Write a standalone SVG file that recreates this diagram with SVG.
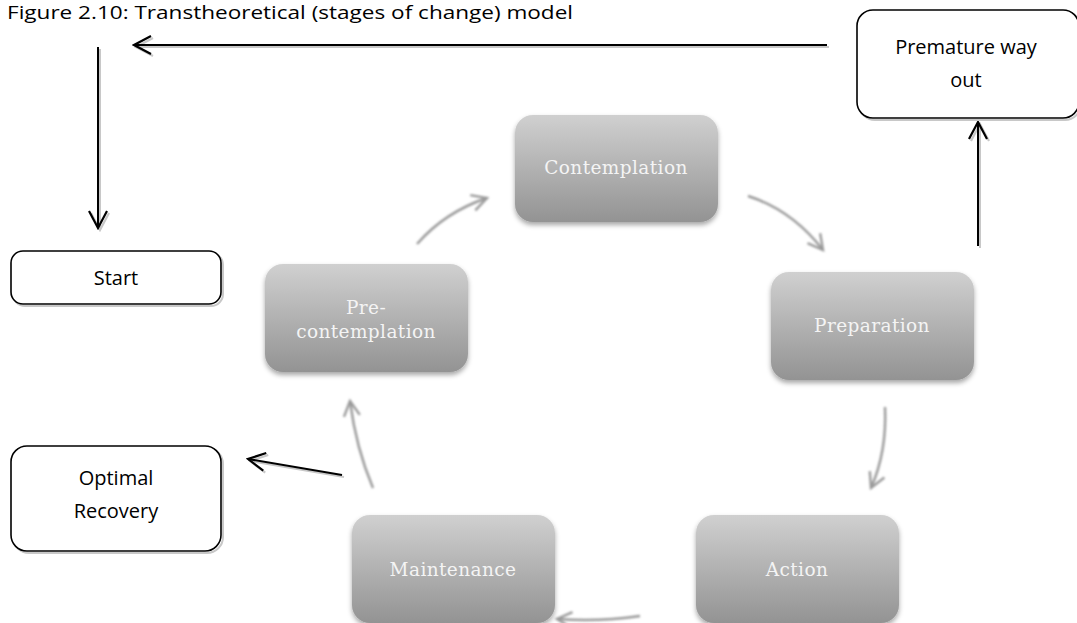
<svg xmlns="http://www.w3.org/2000/svg" width="1077" height="623" viewBox="0 0 1077 623">
  <defs>
    <linearGradient id="stageFill" x1="0" y1="0" x2="0" y2="1">
      <stop offset="0" stop-color="#d0d0d0"/>
      <stop offset="1" stop-color="#939393"/>
    </linearGradient>
    <filter id="softShadow" x="-10%" y="-10%" width="120%" height="130%">
      <feDropShadow dx="0" dy="3" stdDeviation="2.5" flood-color="#000" flood-opacity="0.35"/>
    </filter>
    <filter id="blurLight" x="-5%" y="-5%" width="110%" height="110%">
      <feGaussianBlur stdDeviation="0.8"/>
    </filter>
    <marker id="blackHead" viewBox="0 0 20 20" refX="18" refY="10" markerWidth="20" markerHeight="20" markerUnits="userSpaceOnUse" orient="auto">
      <path d="M1,1 L18,10 L1,19" fill="none" stroke="#000" stroke-width="2.2"/>
    </marker>
    <marker id="shadowHead" viewBox="0 0 20 20" refX="18" refY="10" markerWidth="20" markerHeight="20" markerUnits="userSpaceOnUse" orient="auto">
      <path d="M1,1 L18,10 L1,19" fill="none" stroke="#c8c8c8" stroke-width="2.2"/>
    </marker>
    <marker id="grayHead" viewBox="0 0 20 20" refX="17" refY="10" markerWidth="20" markerHeight="20" markerUnits="userSpaceOnUse" orient="auto">
      <path d="M2,2 L17,10 L2,18" fill="none" stroke="#9a9a9a" stroke-width="2.4"/>
    </marker>
  </defs>
  <style>
    .title { font-family: "Open Sans", "Liberation Sans", sans-serif; font-size: 19px; fill: #000; }
    .outline { fill: #fff; stroke: #000; stroke-width: 1.6; }
    .outlineShadow { fill: none; stroke: #c8c8c8; stroke-width: 2; }
    .label { font-family: "Open Sans", "Liberation Sans", sans-serif; font-size: 20px; fill: #000; text-anchor: middle; }
    .stage { fill: url(#stageFill); filter: url(#softShadow); }
    .stageText { font-family: "DejaVu Serif", "Liberation Serif", serif; font-size: 18.5px; fill: #f4f4f4; text-anchor: middle; letter-spacing: 0.4px; }
    .link { fill: none; stroke: #000; stroke-width: 2; marker-end: url(#blackHead); }
    .linkShadow { fill: none; stroke: #c8c8c8; stroke-width: 2; marker-end: url(#shadowHead); }
    .cycle { fill: none; stroke: #9a9a9a; stroke-width: 2.4; marker-end: url(#grayHead); }
  </style>

  <rect width="1077" height="623" fill="#fff"/>

  <text class="title" x="7" y="19" textLength="566" lengthAdjust="spacingAndGlyphs">Figure 2.10: Transtheoretical (stages of change) model</text>

  <!-- connectors -->
  <g id="connectors">
    <!-- black exit/return arrows with faint drop shadow -->
    <g id="exit-shadows">
      <path class="linkShadow" d="M829,47 L136,47"/>
      <path class="linkShadow" d="M100,49 L100,230"/>
      <path class="linkShadow" d="M980,248 L980,124"/>
      <path class="linkShadow" d="M344,477 L250,461"/>
    </g>
    <path class="link" d="M827,45 L134,45"/>
    <path class="link" d="M98,47 L98,228"/>
    <path class="link" d="M978,246 L978,122"/>
    <path class="link" d="M342,475 L248,459"/>

    <!-- stage cycle arrows -->
    <g id="cycle-arrows" filter="url(#blurLight)">
      <path class="cycle" d="M417,244 Q445,212 487,198"/>
      <path class="cycle" d="M748,196 Q792,210 823,250"/>
      <path class="cycle" d="M885,407 Q887,452 871,488"/>
      <path class="cycle" d="M640,616 Q600,622 557,619"/>
      <path class="cycle" d="M373,488 Q356,448 350,401"/>
    </g>
  </g>

  <!-- outlined outcome boxes -->
  <g id="start">
    <rect class="outlineShadow" x="13" y="253" width="210" height="53" rx="12"/>
    <rect class="outline" x="11" y="251" width="210" height="53" rx="12"/>
    <text class="label" x="116" y="285">Start</text>
  </g>
  <g id="premature-way-out">
    <rect class="outlineShadow" x="859" y="12" width="222" height="108" rx="16"/>
    <rect class="outline" x="857" y="10" width="222" height="108" rx="16"/>
    <text class="label" x="966" y="54">Premature way</text>
    <text class="label" x="966" y="87">out</text>
  </g>
  <g id="optimal-recovery">
    <rect class="outlineShadow" x="13" y="448" width="210" height="105" rx="16"/>
    <rect class="outline" x="11" y="446" width="210" height="105" rx="16"/>
    <text class="label" x="116" y="485">Optimal</text>
    <text class="label" x="116" y="518">Recovery</text>
  </g>

  <!-- stages of change -->
  <g id="contemplation">
    <rect class="stage" x="515" y="115" width="203" height="107" rx="18"/>
    <text class="stageText" x="616" y="174">Contemplation</text>
  </g>
  <g id="preparation">
    <rect class="stage" x="771" y="272" width="203" height="108" rx="18"/>
    <text class="stageText" x="872" y="332">Preparation</text>
  </g>
  <g id="action">
    <rect class="stage" x="696" y="515" width="203" height="108" rx="18"/>
    <text class="stageText" x="797" y="576">Action</text>
  </g>
  <g id="maintenance">
    <rect class="stage" x="352" y="515" width="203" height="108" rx="18"/>
    <text class="stageText" x="453" y="576">Maintenance</text>
  </g>
  <g id="pre-contemplation">
    <rect class="stage" x="265" y="264" width="203" height="108" rx="18"/>
    <text class="stageText" x="366" y="314">Pre-</text>
    <text class="stageText" x="366" y="338">contemplation</text>
  </g>
</svg>
